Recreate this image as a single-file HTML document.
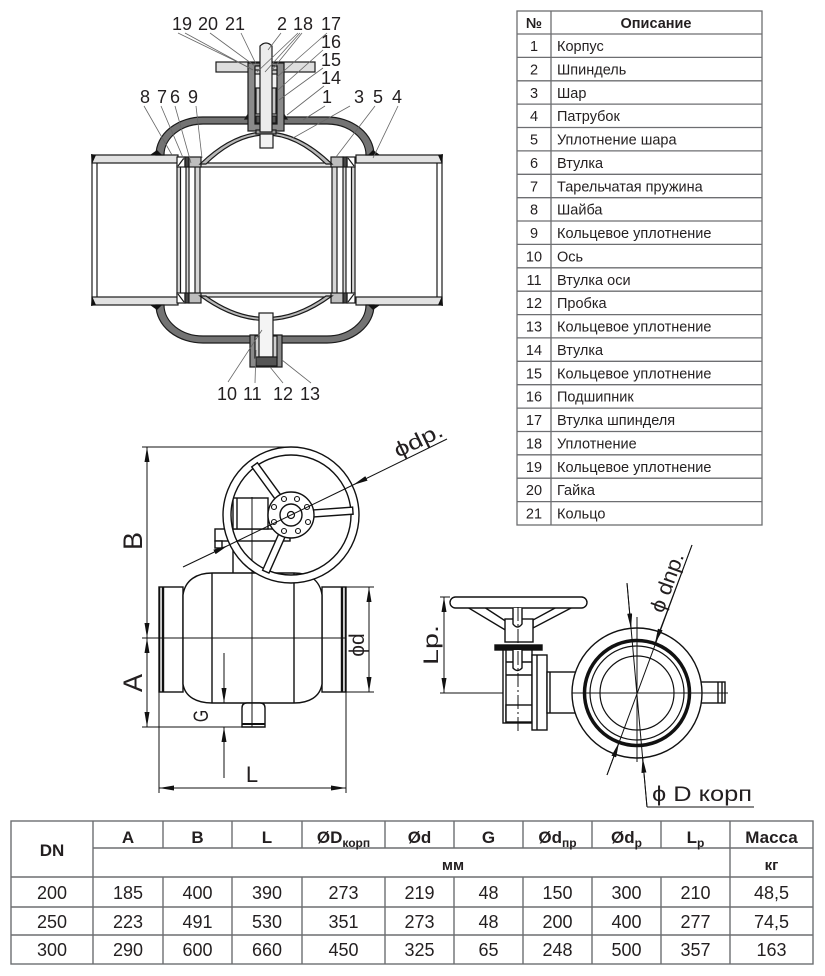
<!DOCTYPE html>
<html><head><meta charset="utf-8">
<style>
html,body{margin:0;padding:0;background:#fff}
svg{display:block}
</style></head><body>
<svg xmlns="http://www.w3.org/2000/svg" width="825" height="976" viewBox="0 0 825 976" font-family="'Liberation Sans', 'DejaVu Sans', sans-serif">
<defs>
<marker id="a" viewBox="0 0 15 5" refX="15" refY="2.5" markerWidth="15" markerHeight="5" markerUnits="userSpaceOnUse" orient="auto-start-reverse"><path d="M0,0L15,2.5L0,5z" fill="#111"/></marker>
</defs>
<rect width="825" height="976" fill="#fff"/>

<!-- ================= TOP CROSS SECTION ================= -->
<g stroke="#1a1a1a" stroke-width="1.2">
 <g fill="none">
  <line x1="92" y1="155" x2="92" y2="305"/>
  <line x1="97" y1="163" x2="97" y2="297"/>
  <line x1="437" y1="163" x2="437" y2="297"/>
  <line x1="442" y1="155" x2="442" y2="305"/>
 </g>
 <g fill="#d6d6d6">
  <rect x="177" y="166" width="3.5" height="128"/>
  <rect x="186" y="166" width="3" height="128"/>
  <rect x="195" y="166" width="5" height="128"/>
  <rect x="332" y="166" width="5" height="128"/>
  <rect x="343" y="166" width="3" height="128"/>
  <rect x="351.5" y="166" width="3.5" height="128"/>
 </g>
 <g fill="#e2e2e2">
  <rect x="92" y="155" width="86" height="8"/>
  <rect x="356" y="155" width="86" height="8"/>
  <rect x="92" y="297" width="86" height="8"/>
  <rect x="356" y="297" width="86" height="8"/>
  <rect x="200" y="163" width="132" height="4"/>
  <rect x="200" y="293" width="132" height="4"/>
 </g>
 <g fill="#111" stroke="none">
  <polygon points="91,154 96,155 92,164"/>
  <polygon points="443,154 438,155 442,164"/>
  <polygon points="91,306 96,305 92,296"/>
  <polygon points="443,306 438,305 442,296"/>
 </g>
 <rect x="177" y="157" width="8" height="10" fill="#fff"/>
 <line x1="178" y1="166" x2="184" y2="158"/>
 <rect x="185" y="157" width="4" height="10" fill="#444"/>
 <rect x="189" y="157" width="12" height="10" fill="#bdbdbd"/>
 <rect x="347" y="157" width="8" height="10" fill="#fff"/>
 <line x1="348" y1="158" x2="354" y2="166"/>
 <rect x="343" y="157" width="4" height="10" fill="#444"/>
 <rect x="331" y="157" width="12" height="10" fill="#bdbdbd"/>
 <rect x="177" y="293" width="8" height="10" fill="#fff"/>
 <line x1="178" y1="294" x2="184" y2="302"/>
 <rect x="185" y="293" width="4" height="10" fill="#444"/>
 <rect x="189" y="293" width="12" height="10" fill="#bdbdbd"/>
 <rect x="347" y="293" width="8" height="10" fill="#fff"/>
 <line x1="348" y1="302" x2="354" y2="294"/>
 <rect x="343" y="293" width="4" height="10" fill="#444"/>
 <rect x="331" y="293" width="12" height="10" fill="#bdbdbd"/>

 <path d="M156,155 A47,38 0 0 1 203,117 L327,117 A47,38 0 0 1 374,155 L366,155 A39,31 0 0 0 327,124 L203,124 A39,31 0 0 0 164,155 Z" fill="#737373"/>
 <path d="M156,305 A47,38 0 0 0 203,343 L327,343 A47,38 0 0 0 374,305 L366,305 A39,31 0 0 1 327,336 L203,336 A39,31 0 0 1 164,305 Z" fill="#737373"/>
 <g fill="#111" stroke="none">
  <polygon points="150,155 162,155 157,150"/>
  <polygon points="368,155 380,155 373,150"/>
  <polygon points="150,305 162,305 157,310"/>
  <polygon points="368,305 380,305 373,310"/>
 </g>

 <path d="M200,164 Q266,100 332,164 L326,164 Q266,106 206,164 Z" fill="#b8b8b8"/>
 <path d="M200,296 Q266,345 332,296 L326,296 Q266,339 206,296 Z" fill="#b8b8b8"/>

 <rect x="216" y="62" width="99" height="10" fill="#dedede"/>
 <polygon points="245,119 249,113 249,119" fill="#111"/>
 <polygon points="287,119 283,113 283,119" fill="#111"/>
 <rect x="248" y="63" width="36" height="68" fill="#8a8a8a"/>
 <rect x="255" y="66" width="22" height="58" fill="#f2f2f2"/>
 <rect x="255" y="66" width="22" height="8" fill="#cfcfcf"/>
 <line x1="255" y1="70" x2="277" y2="70"/>
 <rect x="256" y="88" width="4" height="26" fill="#c4c4c4"/>
 <rect x="272" y="88" width="4" height="26" fill="#c4c4c4"/>
 <rect x="256" y="116" width="4" height="7" fill="#555"/>
 <rect x="272" y="116" width="4" height="7" fill="#555"/>
 <rect x="256" y="130" width="20" height="4" fill="#999"/>
 <path d="M260,132 L260,46 Q266,40 272,46 L272,132 Z" fill="#ececec"/>
 <rect x="260" y="134" width="13" height="14" fill="#f2f2f2"/>

 <rect x="250" y="335" width="32" height="32" fill="#8a8a8a"/>
 <rect x="255" y="336" width="22" height="22" fill="#cfcfcf"/>
 <rect x="259" y="313" width="14" height="44" fill="#f4f4f4"/>
 <rect x="256" y="357" width="21" height="9" fill="#555"/>
</g>

<g stroke="#666" stroke-width="0.8" fill="none">
 <line x1="178" y1="33" x2="250" y2="68"/>
 <line x1="185" y1="33" x2="253" y2="70"/>
 <line x1="210" y1="33" x2="255" y2="66"/>
 <line x1="241" y1="33" x2="256" y2="64"/>
 <line x1="281" y1="33" x2="268" y2="50"/>
 <line x1="298" y1="33" x2="257" y2="72"/>
 <line x1="300" y1="33" x2="265" y2="72"/>
 <line x1="302" y1="33" x2="272" y2="70"/>
 <line x1="327" y1="33" x2="277" y2="77"/>
 <line x1="323" y1="50" x2="278" y2="90"/>
 <line x1="323" y1="68" x2="279" y2="100"/>
 <line x1="324" y1="86" x2="287" y2="115"/>
 <line x1="325" y1="106" x2="303" y2="120"/>
 <line x1="350" y1="106" x2="293" y2="138"/>
 <line x1="375" y1="106" x2="336" y2="157"/>
 <line x1="398" y1="106" x2="373" y2="158"/>
 <line x1="144" y1="106" x2="172" y2="155"/>
 <line x1="161" y1="106" x2="184" y2="160"/>
 <line x1="175" y1="106" x2="191" y2="163"/>
 <line x1="196" y1="106" x2="202" y2="158"/>
 <line x1="228" y1="382" x2="262" y2="330"/>
 <line x1="255" y1="383" x2="256" y2="350"/>
 <line x1="283" y1="383" x2="270" y2="367"/>
 <line x1="311" y1="383" x2="282" y2="360"/>
</g>
<g font-size="18" fill="#231f20">
 <text x="172" y="30">19</text>
 <text x="198" y="30">20</text>
 <text x="225" y="30">21</text>
 <text x="277" y="30">2</text>
 <text x="293" y="30">18</text>
 <text x="321" y="30">17</text>
 <text x="321" y="48">16</text>
 <text x="321" y="66">15</text>
 <text x="321" y="84">14</text>
 <text x="322" y="103">1</text>
 <text x="354" y="103">3</text>
 <text x="373" y="103">5</text>
 <text x="392" y="103">4</text>
 <text x="140" y="103">8</text>
 <text x="157" y="103">7</text>
 <text x="170" y="103">6</text>
 <text x="188" y="103">9</text>
 <text x="217" y="400">10</text>
 <text x="243" y="400">11</text>
 <text x="273" y="400">12</text>
 <text x="300" y="400">13</text>
</g>

<!-- ================= PARTS TABLE ================= -->
<g stroke="#6d6e71" stroke-width="1.3" fill="none">
 <rect x="517" y="11" width="245" height="514"/>
 <line x1="551" y1="11" x2="551" y2="525"/>
 <line x1="517" y1="34" x2="762" y2="34"/>
 <line x1="517" y1="57.4" x2="762" y2="57.4"/>
 <line x1="517" y1="80.8" x2="762" y2="80.8"/>
 <line x1="517" y1="104.1" x2="762" y2="104.1"/>
 <line x1="517" y1="127.5" x2="762" y2="127.5"/>
 <line x1="517" y1="150.9" x2="762" y2="150.9"/>
 <line x1="517" y1="174.3" x2="762" y2="174.3"/>
 <line x1="517" y1="197.7" x2="762" y2="197.7"/>
 <line x1="517" y1="221" x2="762" y2="221"/>
 <line x1="517" y1="244.4" x2="762" y2="244.4"/>
 <line x1="517" y1="267.8" x2="762" y2="267.8"/>
 <line x1="517" y1="291.2" x2="762" y2="291.2"/>
 <line x1="517" y1="314.6" x2="762" y2="314.6"/>
 <line x1="517" y1="337.9" x2="762" y2="337.9"/>
 <line x1="517" y1="361.3" x2="762" y2="361.3"/>
 <line x1="517" y1="384.7" x2="762" y2="384.7"/>
 <line x1="517" y1="408.1" x2="762" y2="408.1"/>
 <line x1="517" y1="431.5" x2="762" y2="431.5"/>
 <line x1="517" y1="454.8" x2="762" y2="454.8"/>
 <line x1="517" y1="478.2" x2="762" y2="478.2"/>
 <line x1="517" y1="501.6" x2="762" y2="501.6"/>
</g>
<g font-size="14.5" fill="#231f20">
 <text x="534" y="28" text-anchor="middle" font-weight="bold">№</text>
 <text x="656" y="28" text-anchor="middle" font-weight="bold">Описание</text>
 <g text-anchor="middle">
  <text x="534" y="51">1</text>
  <text x="534" y="74.4">2</text>
  <text x="534" y="97.8">3</text>
  <text x="534" y="121.1">4</text>
  <text x="534" y="144.5">5</text>
  <text x="534" y="167.9">6</text>
  <text x="534" y="191.3">7</text>
  <text x="534" y="214.7">8</text>
  <text x="534" y="238">9</text>
  <text x="534" y="261.4">10</text>
  <text x="534" y="284.8">11</text>
  <text x="534" y="308.2">12</text>
  <text x="534" y="331.6">13</text>
  <text x="534" y="354.9">14</text>
  <text x="534" y="378.3">15</text>
  <text x="534" y="401.7">16</text>
  <text x="534" y="425.1">17</text>
  <text x="534" y="448.5">18</text>
  <text x="534" y="471.8">19</text>
  <text x="534" y="495.2">20</text>
  <text x="534" y="518.6">21</text>
 </g>
 <text x="557" y="51">Корпус</text>
 <text x="557" y="74.4">Шпиндель</text>
 <text x="557" y="97.8">Шар</text>
 <text x="557" y="121.1">Патрубок</text>
 <text x="557" y="144.5">Уплотнение шара</text>
 <text x="557" y="167.9">Втулка</text>
 <text x="557" y="191.3">Тарельчатая пружина</text>
 <text x="557" y="214.7">Шайба</text>
 <text x="557" y="238">Кольцевое уплотнение</text>
 <text x="557" y="261.4">Ось</text>
 <text x="557" y="284.8">Втулка оси</text>
 <text x="557" y="308.2">Пробка</text>
 <text x="557" y="331.6">Кольцевое уплотнение</text>
 <text x="557" y="354.9">Втулка</text>
 <text x="557" y="378.3">Кольцевое уплотнение</text>
 <text x="557" y="401.7">Подшипник</text>
 <text x="557" y="425.1">Втулка шпинделя</text>
 <text x="557" y="448.5">Уплотнение</text>
 <text x="557" y="471.8">Кольцевое уплотнение</text>
 <text x="557" y="495.2">Гайка</text>
 <text x="557" y="518.6">Кольцо</text>
</g>

<!-- ================= LOWER LEFT VIEW ================= -->
<g stroke="#111" stroke-width="1.4" fill="none">
 <g stroke-width="1">
  <line x1="142" y1="447" x2="290" y2="447"/>
  <line x1="142" y1="727" x2="265" y2="727"/>
  <line x1="142" y1="638" x2="346" y2="638"/>
  <line x1="159" y1="692" x2="159" y2="793"/>
  <line x1="346" y1="692" x2="346" y2="793"/>
  <line x1="346" y1="587" x2="374" y2="587"/>
  <line x1="346" y1="692" x2="374" y2="692"/>
  <line x1="252" y1="497" x2="252" y2="727"/>
 </g>
 <rect x="159" y="587" width="24" height="105" fill="#fff"/>
 <line x1="163" y1="587" x2="163" y2="692" stroke-width="2.4"/>
 <line x1="159.5" y1="587" x2="159.5" y2="692" stroke-width="1.6"/>
 <rect x="322" y="587" width="24" height="105" fill="#fff"/>
 <line x1="342" y1="587" x2="342" y2="692" stroke-width="2.4"/>
 <line x1="345.5" y1="587" x2="345.5" y2="692" stroke-width="1.6"/>
 <path d="M183,595 C185,580 197,573 212,573 L294,573 C309,573 320,580 322,595 L322,684 C320,697 309,703 294,703 L212,703 C197,703 185,697 183,684 Z" fill="#fff"/>
 <line x1="212" y1="573" x2="212" y2="703"/>
 <line x1="294" y1="573" x2="294" y2="703"/>
 <line x1="142" y1="638" x2="346" y2="638" stroke-width="1"/>
 <line x1="252" y1="497" x2="252" y2="727" stroke-width="1"/>
 <path d="M242,727 L242,708 Q242,703 247,703 L260,703 Q265,703 265,708 L265,727 Z" fill="#fff"/>
 <line x1="242" y1="724" x2="265" y2="724" stroke-width="2"/>
 <line x1="252" y1="703" x2="252" y2="727" stroke-width="1"/>
 <line x1="233" y1="541" x2="233" y2="573"/>
 <line x1="252" y1="541" x2="252" y2="573" stroke-width="1"/>
 <rect x="215" y="529" width="75" height="12" fill="#fff"/>
 <rect x="215" y="541" width="7" height="7" fill="#fff"/>
 <rect x="233" y="498" width="35" height="31" fill="#fff"/>
 <line x1="237" y1="498" x2="237" y2="529"/>
 <line x1="252" y1="497" x2="252" y2="541" stroke-width="1"/>
 <path d="M223,515 A68,68 0 1 0 359,515 A68,68 0 1 0 223,515 Z M231,515 A60,60 0 1 1 351,515 A60,60 0 1 1 231,515 Z" fill="#fff" fill-rule="evenodd"/>
 <rect x="311" y="511.5" width="42" height="7" fill="#fff" transform="rotate(-4 291 515)"/>
 <rect x="311" y="511.5" width="42" height="7" fill="#fff" transform="rotate(-126 291 515)"/>
 <rect x="311" y="511.5" width="42" height="7" fill="#fff" transform="rotate(114 291 515)"/>
 <circle cx="291" cy="515" r="23" fill="#fff"/>
 <circle cx="291" cy="515" r="11" fill="#fff"/>
 <circle cx="291" cy="515" r="3.5" stroke-width="1.2"/>
 <g stroke-width="1.1">
  <circle cx="297" cy="499" r="2.5"/>
  <circle cx="307" cy="507" r="2.5"/>
  <circle cx="308" cy="522" r="2.5"/>
  <circle cx="298" cy="531" r="2.5"/>
  <circle cx="284" cy="531" r="2.5"/>
  <circle cx="274" cy="522" r="2.5"/>
  <circle cx="274" cy="507" r="2.5"/>
  <circle cx="284" cy="499" r="2.5"/>
 </g>
 <g stroke-width="1">
  <line x1="147" y1="447" x2="147" y2="638" marker-start="url(#a)" marker-end="url(#a)"/>
  <line x1="147" y1="638" x2="147" y2="727" marker-start="url(#a)" marker-end="url(#a)"/>
  <line x1="159" y1="788" x2="346" y2="788" marker-start="url(#a)" marker-end="url(#a)"/>
  <line x1="369" y1="587" x2="369" y2="692" marker-start="url(#a)" marker-end="url(#a)"/>
  <line x1="224" y1="653" x2="224" y2="703" marker-end="url(#a)"/>
  <line x1="224" y1="778" x2="224" y2="727" marker-end="url(#a)"/>
  <line x1="183" y1="567" x2="228" y2="545.5" marker-end="url(#a)"/>
  <line x1="447" y1="439" x2="353" y2="485" marker-end="url(#a)"/>
  <line x1="228" y1="545.5" x2="353" y2="485"/>
 </g>
</g>
<g fill="#231f20">
 <text transform="translate(142,541) rotate(-90)" font-size="27" text-anchor="middle">B</text>
 <text transform="translate(142,683) rotate(-90)" font-size="27" text-anchor="middle">A</text>
 <text transform="translate(208,716) rotate(-90) scale(0.75,1)" font-size="21" text-anchor="middle">G</text>
 <text x="252" y="782" font-size="22" text-anchor="middle">L</text>
 <text transform="translate(364,645) rotate(-90)" font-size="21" text-anchor="middle">ϕd</text>
 <text transform="translate(398,458) rotate(-26)" font-size="21" textLength="52" lengthAdjust="spacingAndGlyphs">ϕdp.</text>
</g>

<!-- ================= LOWER RIGHT VIEW ================= -->
<g stroke="#111" stroke-width="1.4" fill="none">
 <g stroke-width="1">
  <line x1="440" y1="597" x2="450" y2="597"/>
  <line x1="440" y1="693" x2="728" y2="693"/>
 </g>
 <polygon points="467,607 484,607 507,622 507,631" fill="#fff"/>
 <polygon points="573,607 557,607 533,620 533,628" fill="#fff"/>
 <rect x="450" y="597" width="137" height="11" rx="5.5" fill="#fff"/>
 <rect x="505" y="619" width="28" height="23" fill="#fff"/>
 <path d="M513,608 L513,624 Q517.5,630 522,624 L522,608" fill="#fff"/>
 <rect x="495" y="645" width="47" height="5" fill="#111"/>
 <rect x="503" y="650" width="29" height="73" fill="#fff"/>
 <line x1="506" y1="650" x2="506" y2="723"/>
 <line x1="506" y1="662" x2="532" y2="662"/>
 <line x1="506" y1="675" x2="532" y2="675"/>
 <rect x="506" y="705" width="26" height="17" fill="#fff"/>
 <path d="M513,650 L513,668 Q517.5,673 522,668 L522,650" fill="#fff"/>
 <rect x="532" y="655" width="15" height="75" fill="#fff"/>
 <line x1="537" y1="655" x2="537" y2="730"/>
 <rect x="547" y="672" width="30" height="41" fill="#fff"/>
 <line x1="550" y1="672" x2="550" y2="713"/>
 <rect x="695" y="682" width="30" height="21" fill="#fff"/>
 <line x1="718" y1="682" x2="718" y2="703"/>
 <line x1="722" y1="682" x2="722" y2="703"/>
 <circle cx="637" cy="693" r="65" fill="#fff"/>
 <circle cx="637" cy="693" r="52.5" stroke-width="3.5"/>
 <circle cx="637" cy="693" r="47" stroke-width="1.2"/>
 <circle cx="637" cy="693" r="37" stroke-width="1.2"/>
 <g stroke-width="1">
  <line x1="518" y1="607" x2="518" y2="733" stroke-dasharray="14,3,2,3"/>
  <line x1="572" y1="693" x2="728" y2="693"/>
  <line x1="637" y1="617" x2="637" y2="762"/>
  <line x1="444" y1="597" x2="444" y2="693" marker-start="url(#a)" marker-end="url(#a)"/>
  <line x1="607" y1="775" x2="692" y2="545"/>
  <line x1="692" y1="545" x2="655" y2="643.5" marker-end="url(#a)"/>
  <line x1="607" y1="775" x2="619" y2="742.5" marker-end="url(#a)"/>
  <line x1="627" y1="583" x2="647" y2="807"/>
  <line x1="627" y1="583" x2="631" y2="628.5" marker-end="url(#a)"/>
  <line x1="647" y1="807" x2="642.6" y2="757.8" marker-end="url(#a)"/>
  <line x1="647" y1="807" x2="754" y2="807"/>
 </g>
</g>
<g fill="#231f20">
 <text transform="translate(438,645) rotate(-90)" font-size="21" text-anchor="middle" textLength="40" lengthAdjust="spacingAndGlyphs">Lp.</text>
 <text transform="translate(663,614) rotate(-70)" font-size="21" textLength="62" lengthAdjust="spacingAndGlyphs">ϕ dnp.</text>
 <text x="652" y="801" font-size="21" textLength="100" lengthAdjust="spacingAndGlyphs">ϕ D корп</text>
</g>

<!-- ================= DIMENSIONS TABLE ================= -->
<g stroke="#6d6e71" stroke-width="1.4" fill="none">
 <rect x="11" y="821" width="802" height="143"/>
 <line x1="93" y1="848" x2="813" y2="848"/>
 <line x1="11" y1="877" x2="813" y2="877"/>
 <line x1="11" y1="907" x2="813" y2="907"/>
 <line x1="11" y1="935" x2="813" y2="935"/>
 <line x1="93" y1="821" x2="93" y2="964"/>
 <line x1="730" y1="821" x2="730" y2="964"/>
 <g>
  <line x1="163" y1="821" x2="163" y2="848"/><line x1="163" y1="877" x2="163" y2="964"/>
  <line x1="232" y1="821" x2="232" y2="848"/><line x1="232" y1="877" x2="232" y2="964"/>
  <line x1="302" y1="821" x2="302" y2="848"/><line x1="302" y1="877" x2="302" y2="964"/>
  <line x1="385" y1="821" x2="385" y2="848"/><line x1="385" y1="877" x2="385" y2="964"/>
  <line x1="454" y1="821" x2="454" y2="848"/><line x1="454" y1="877" x2="454" y2="964"/>
  <line x1="523" y1="821" x2="523" y2="848"/><line x1="523" y1="877" x2="523" y2="964"/>
  <line x1="592" y1="821" x2="592" y2="848"/><line x1="592" y1="877" x2="592" y2="964"/>
  <line x1="661" y1="821" x2="661" y2="848"/><line x1="661" y1="877" x2="661" y2="964"/>
 </g>
</g>
<g fill="#231f20" text-anchor="middle">
 <g font-weight="bold" font-size="17">
  <text x="52" y="856">DN</text>
  <text x="128" y="843">A</text>
  <text x="197.5" y="843">B</text>
  <text x="267" y="843">L</text>
  <text x="343.5" y="843">ØD<tspan font-size="12" dy="4">корп</tspan></text>
  <text x="419.5" y="843">Ød</text>
  <text x="488.5" y="843">G</text>
  <text x="557.5" y="843">Ød<tspan font-size="12" dy="4">пр</tspan></text>
  <text x="626.5" y="843">Ød<tspan font-size="12" dy="4">р</tspan></text>
  <text x="695.5" y="843">L<tspan font-size="12" dy="4">р</tspan></text>
  <text x="771.5" y="843">Масса</text>
  <text x="453" y="870" font-size="15">мм</text>
  <text x="771.5" y="870" font-size="15">кг</text>
 </g>
 <g font-size="18">
  <text x="52" y="899">200</text><text x="128" y="899">185</text><text x="197.5" y="899">400</text><text x="267" y="899">390</text><text x="343.5" y="899">273</text><text x="419.5" y="899">219</text><text x="488.5" y="899">48</text><text x="557.5" y="899">150</text><text x="626.5" y="899">300</text><text x="695.5" y="899">210</text><text x="771.5" y="899">48,5</text>
  <text x="52" y="928">250</text><text x="128" y="928">223</text><text x="197.5" y="928">491</text><text x="267" y="928">530</text><text x="343.5" y="928">351</text><text x="419.5" y="928">273</text><text x="488.5" y="928">48</text><text x="557.5" y="928">200</text><text x="626.5" y="928">400</text><text x="695.5" y="928">277</text><text x="771.5" y="928">74,5</text>
  <text x="52" y="956">300</text><text x="128" y="956">290</text><text x="197.5" y="956">600</text><text x="267" y="956">660</text><text x="343.5" y="956">450</text><text x="419.5" y="956">325</text><text x="488.5" y="956">65</text><text x="557.5" y="956">248</text><text x="626.5" y="956">500</text><text x="695.5" y="956">357</text><text x="771.5" y="956">163</text>
 </g>
</g>
</svg>
</body></html>
